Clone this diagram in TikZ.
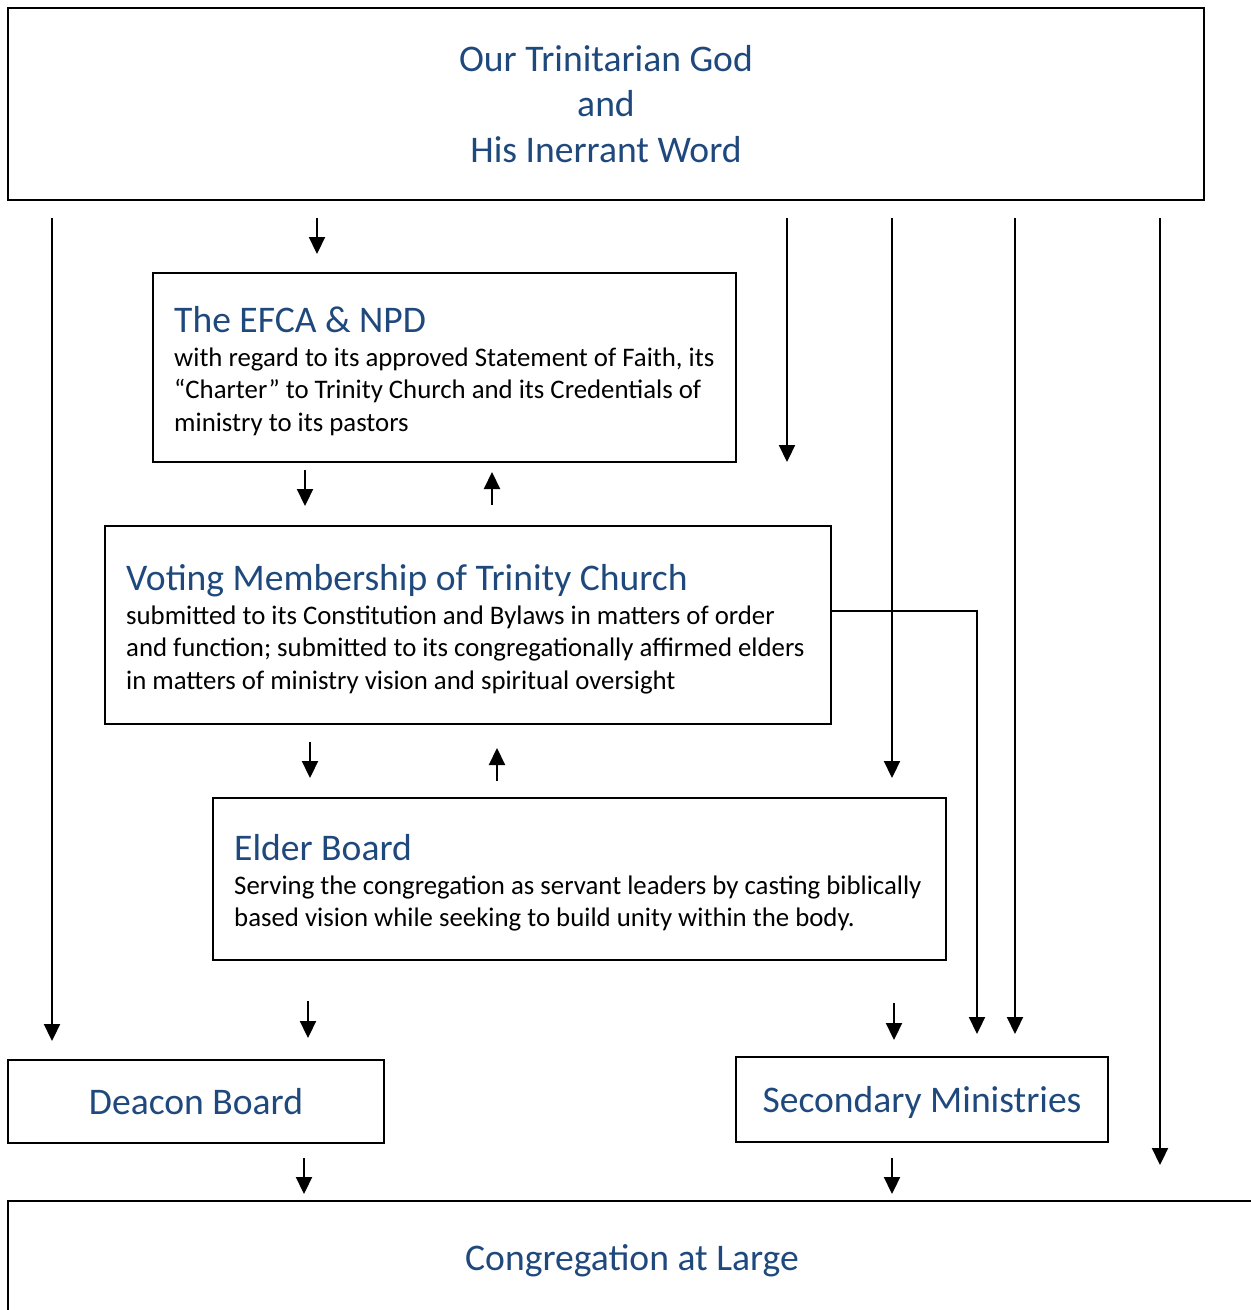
\documentclass[tikz,border=0pt]{standalone}
\usepackage{fontspec}
\setmainfont{Carlito}
\usetikzlibrary{arrows.meta}
\definecolor{headblue}{HTML}{1F497D}
\tikzset{
  box/.style={draw=black, line width=2pt, rectangle, inner sep=0pt, outer sep=0pt, anchor=north west},
  ttl/.style={text=headblue, font=\fontsize{37.6}{45}\selectfont, inner sep=0pt},
  bdy/.style={text=black, font=\fontsize{26.8}{32.4}\selectfont, inner sep=0pt, anchor=base west},
  arr/.style={line width=2.2pt, -{Triangle[width=16pt,length=17pt]}}
}
\begin{document}
\begin{tikzpicture}[x=1pt,y=-1pt]
\useasboundingbox (0,0) rectangle (1251,1310);
\clip (0,0) rectangle (1251,1310);

% boxes
\node[box, minimum width=1196pt, minimum height=192pt] (top) at (8,8) {};
\node[box, minimum width=583pt, minimum height=189pt] (efca) at (153,273) {};
\node[box, minimum width=726pt, minimum height=198pt] (voting) at (105,526) {};
\node[box, minimum width=733pt, minimum height=162pt] (elder) at (213,798) {};
\node[box, minimum width=376pt, minimum height=83pt] (deacon) at (8,1060) {};
\node[box, minimum width=372pt, minimum height=85pt] (second) at (736,1057) {};
\node[box, minimum width=1300pt, minimum height=160pt] (cong) at (8,1201) {};

% texts
\node[ttl, anchor=base] (t1) at (606,71) {Our Trinitarian God};
\node[ttl, anchor=base] (t2) at (606,116) {and};
\node[ttl, anchor=base] (t3) at (606,162) {His Inerrant Word};

\node[ttl, anchor=base west] (efcat) at (174,332) {The EFCA \& NPD};
\node[bdy] (efca1) at (174,366) {with regard to its approved Statement of Faith, its};
\node[bdy] (efca2) at (174,398.5) {“Charter” to Trinity Church and its Credentials of};
\node[bdy] (efca3) at (174,431) {ministry to its pastors};

\node[ttl, anchor=base west] (votingt) at (126,590) {Voting Membership of Trinity Church};
\node[bdy] (voting1) at (126,624) {submitted to its Constitution and Bylaws in matters of order};
\node[bdy] (voting2) at (126,656.5) {and function; submitted to its congregationally affirmed elders};
\node[bdy] (voting3) at (126,689) {in matters of ministry vision and spiritual oversight};

\node[ttl, anchor=base west] (eldert) at (234,860) {Elder Board};
\node[bdy] (elder1) at (234,894) {Serving the congregation as servant leaders by casting biblically};
\node[bdy] (elder2) at (234,926.5) {based vision while seeking to build unity within the body.};

\node[ttl, anchor=base] (deacont) at (196,1114) {Deacon Board};
\node[ttl, anchor=base] (secondt) at (922,1112) {Secondary Ministries};
\node[ttl, anchor=base] (congt) at (632,1270) {Congregation at Large};

% connector end points
\coordinate (a1s) at (52,218);   \coordinate (a1e) at (52,1041);
\coordinate (a2s) at (317,218);  \coordinate (a2e) at (317,254);
\coordinate (a3s) at (787,218);  \coordinate (a3e) at (787,462);
\coordinate (a4s) at (892,218);  \coordinate (a4e) at (892,778);
\coordinate (a5s) at (1015,218); \coordinate (a5e) at (1015,1034);
\coordinate (a6s) at (1160,218); \coordinate (a6e) at (1160,1165);
\coordinate (b1s) at (305,470);  \coordinate (b1e) at (305,506);
\coordinate (b2s) at (492,505);  \coordinate (b2e) at (492,472);
\coordinate (c1s) at (310,742);  \coordinate (c1e) at (310,778);
\coordinate (c2s) at (497,781);  \coordinate (c2e) at (497,748);
\coordinate (d1s) at (308,1001); \coordinate (d1e) at (308,1038);
\coordinate (d2s) at (894,1003); \coordinate (d2e) at (894,1040);
\coordinate (vout) at (831,611); \coordinate (vbend) at (977,611); \coordinate (ve) at (977,1034);
\coordinate (e1s) at (304,1158); \coordinate (e1e) at (304,1194);
\coordinate (e2s) at (892,1158); \coordinate (e2e) at (892,1194);

\draw[arr] (a1s) -- (a1e);
\draw[arr] (a2s) -- (a2e);
\draw[arr] (a3s) -- (a3e);
\draw[arr] (a4s) -- (a4e);
\draw[arr] (a5s) -- (a5e);
\draw[arr] (a6s) -- (a6e);
\draw[arr] (b1s) -- (b1e);
\draw[arr] (b2s) -- (b2e);
\draw[arr] (c1s) -- (c1e);
\draw[arr] (c2s) -- (c2e);
\draw[arr] (d1s) -- (d1e);
\draw[arr] (d2s) -- (d2e);
\draw[arr] (vout) -- (vbend) -- (ve);
\draw[arr] (e1s) -- (e1e);
\draw[arr] (e2s) -- (e2e);
\end{tikzpicture}
\end{document}
